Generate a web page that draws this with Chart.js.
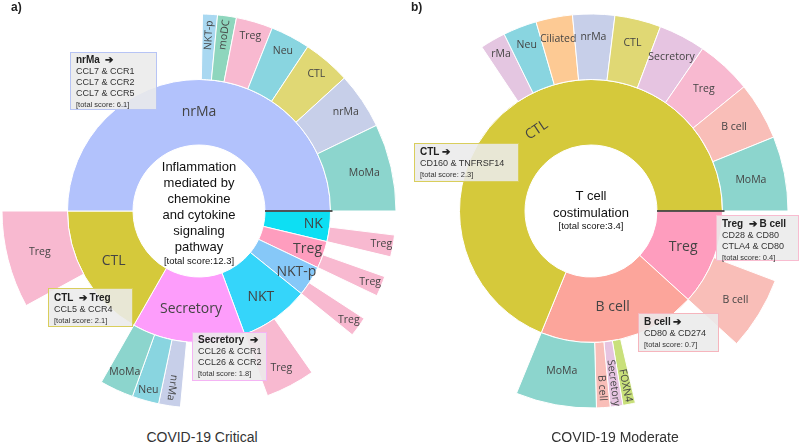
<!DOCTYPE html>
<html>
<head>
<meta charset="utf-8">
<script src="https://cdn.jsdelivr.net/npm/chart.js@4.4.0/dist/chart.umd.min.js"></script>
<style>
  body { margin: 0; width: 799px; height: 443px; background: #fff; position: relative; overflow: hidden;
         font-family: "Liberation Sans", Arial, sans-serif; color: #222; }
  .wrap { position: absolute; top: 0; width: 398px; height: 422px; }
  .panel { position: absolute; top: 0; font-size: 12px; font-weight: bold; line-height: 14px; }
  .center { position: absolute; width: 130px; text-align: center; font-size: 13px; line-height: 16px; color: #111; }
  .center .small { font-size: 9.5px; line-height: 12px; }
  .box { position: absolute; box-sizing: border-box; border: 1.5px solid; background: rgba(234,234,234,0.88);
         padding: 1px 0 0 5px; font-size: 9px; line-height: 11px; color: #333; white-space: nowrap; }
  .box b { font-size: 10px; color: #222; }
  .box .tot { font-size: 7.5px; line-height: 10px; }
  .title { position: absolute; top: 429px; width: 300px; text-align: center; font-size: 14px; line-height: 16px; color: #333; }
</style>
</head>
<body>
<div class="wrap" style="left:0"><canvas id="chartA" width="398" height="422"></canvas></div>
<div class="wrap" style="left:392px"><canvas id="chartB" width="398" height="422"></canvas></div>

<div class="panel" style="left:11px">a)</div>
<div class="panel" style="left:411px">b)</div>

<div class="center" style="left:134px;top:159px">Inflammation<br>mediated by<br>chemokine<br>and cytokine<br>signaling<br>pathway<div class="small">[total score:12.3]</div></div>
<div class="center" style="left:526px;top:187px;line-height:17px">T cell<br>costimulation<div class="small" style="line-height:9px">[total score:3.4]</div></div>

<div class="box" style="left:70px;top:52px;width:87px;height:58px;border-color:#b7c4f5"><b>nrMa &nbsp;➔</b><br>CCL7 &amp; CCR1<br>CCL7 &amp; CCR2<br>CCL7 &amp; CCR5<br><span class="tot">[total score: 6.1]</span></div>
<div class="box" style="left:48px;top:288px;width:85px;height:39px;padding-top:3px;border-color:#d9ce5c"><b>CTL &nbsp;➔ Treg</b><br>CCL5 &amp; CCR4<br><span class="tot">[total score: 2.1]</span></div>
<div class="box" style="left:192px;top:332px;width:75px;height:49px;border-color:#f4b4f4"><b>Secretory &nbsp;➔</b><br>CCL26 &amp; CCR1<br>CCL26 &amp; CCR2<br><span class="tot">[total score: 1.8]</span></div>

<div class="box" style="left:414px;top:143px;width:105px;height:39px;padding-top:2px;border-color:#d9ce5c"><b>CTL ➔</b><br>CD160 &amp; TNFRSF14<br><span class="tot">[total score: 2.3]</span></div>
<div class="box" style="left:716px;top:215px;width:83px;height:46px;padding-top:2px;border-color:#f8bcd0"><b>Treg &nbsp;➔ B cell</b><br>CD28 &amp; CD80<br>CTLA4 &amp; CD80<br><span class="tot">[total score: 0.4]</span></div>
<div class="box" style="left:638px;top:313px;width:81px;height:39px;padding-top:2px;border-color:#f6b5bd"><b>B cell ➔</b><br>CD80 &amp; CD274<br><span class="tot">[total score: 0.7]</span></div>

<div class="title" style="left:52px">COVID-19 Critical</div>
<div class="title" style="left:465px">COVID-19 Moderate</div>

<script>
// a) COVID-19 Critical - senders (inner ring), clockwise from 3 o'clock
const sourcesA = ['NK', 'Treg', 'NKT-p', 'NKT', 'Secretory', 'CTL', 'nrMa'];
const sourceScoresA = [0.46, 0.41, 0.46, 1.05, 1.71, 2.06, 6.15];
// receivers (outer ring), parent = index into sourcesA
const targetParentA = [0, 1, 2, 3, 4, 4, 4, 5, 6, 6, 6, 6, 6, 6, 6];
const targetsA = ['Treg', 'Treg', 'Treg', 'Treg', 'nrMa', 'Neu', 'MoMa', 'Treg', 'NKT-p', 'moDC', 'Treg', 'Neu', 'CTL', 'nrMa', 'MoMa'];
const targetScoresA = [0.22, 0.205, 0.20, 0.50, 0.22, 0.27, 0.34, 0.98, 0.15, 0.19, 0.37, 0.40, 0.48, 0.57, 0.88];

// b) COVID-19 Moderate
const sourcesB = ['Treg', 'B cell', 'CTL'];
const sourceScoresB = [0.40, 0.66, 2.34];
const targetParentB = [0, 1, 1, 1, 1, 2, 2, 2, 2, 2, 2, 2, 2, 2];
const targetsB = ['B cell', 'FOXN4', 'Secretory', 'B cell', 'MoMa', 'rMa', 'Neu', 'Ciliated', 'nrMa', 'CTL', 'Secretory', 'Treg', 'B cell', 'MoMa'];
const targetScoresB = [0.204, 0.035, 0.035, 0.038, 0.225, 0.071, 0.094, 0.102, 0.117, 0.129, 0.131, 0.155, 0.161, 0.208];

// colours
const innerColors = {
  'NK': '#0ddff3', 'Treg': '#fe9dbe', 'NKT-p': '#86c8f8', 'NKT': '#35d5fa',
  'Secretory': '#fd9dfb', 'CTL': '#d5c93b', 'nrMa': '#b2c2fc', 'B cell': '#fca59b'
};
const outerColors = {
  'Treg': '#f8b9d0', 'MoMa': '#8cd5cd', 'Neu': '#89d5e0', 'nrMa': '#c7cfe9', 'CTL': '#e0d874',
  'moDC': '#8ed6bd', 'NKT-p': '#a9d8f1', 'rMa': '#e4c6e1', 'Ciliated': '#fdca94',
  'Secretory': '#e6c4e1', 'B cell': '#f9beb8', 'FOXN4': '#c9e07b'
};

// label placement (fraction across the ring) and orientation: h = horizontal, r = radial, t = tangential
const innerLabelPosA = [0.75, 0.75, 0.75, 0.61, 0.5, 0.5, 0.5];
const outerLabelPosA = [0.82, 0.82, 0.82, 0.7, 0.72, 0.83, 0.7, 0.5, 0.68, 0.71, 0.77, 0.75, 0.75, 0.7, 0.58];
const outerLabelDirA = ['h', 'h', 'h', 'h', 'r', 'h', 'h', 'h', 'r', 'r', 'h', 'h', 'h', 'h', 'h'];
const innerLabelPosB = [0.5, 0.5, 0.48];
const innerLabelDirB = ['h', 'h', 't'];
const outerLabelPosB = [0.58, 0.71, 0.64, 0.7, 0.48, 0.75, 0.71, 0.67, 0.65, 0.64, 0.65, 0.53, 0.53, 0.48];
const outerLabelDirB = ['h', 'r', 'r', 'r', 'h', 'h', 'h', 'h', 'h', 'h', 'h', 'h', 'h', 'h'];

// outer ring: for every sender, an empty remainder first, then its receivers
function buildOuter(sources, scores, parents, targets, tScores, pos, dir) {
  const out = { data: [], colors: [], borders: [], labels: [], pos: [], dir: [] };
  sources.forEach((s, p) => {
    let used = 0;
    parents.forEach((pp, i) => { if (pp === p) used += tScores[i]; });
    out.data.push(Math.max(scores[p] - used, 0));
    out.colors.push('rgba(0,0,0,0)');
    out.borders.push(0);
    out.labels.push('');
    out.pos.push(0.5);
    out.dir.push('h');
    parents.forEach((pp, i) => {
      if (pp !== p) return;
      out.data.push(tScores[i]);
      out.colors.push(outerColors[targets[i]]);
      out.borders.push(1);
      out.labels.push(targets[i]);
      out.pos.push(pos[i]);
      out.dir.push(dir[i]);
    });
  });
  return out;
}

const labelPlugin = {
  id: 'sliceLabels',
  afterDatasetsDraw(chart) {
    const ctx = chart.ctx;
    chart.data.datasets.forEach((ds, di) => {
      const meta = chart.getDatasetMeta(di);
      meta.data.forEach((arc, i) => {
        const text = ds.sliceLabels[i];
        if (!text) return;
        const p = arc.getProps(['x', 'y', 'startAngle', 'endAngle', 'innerRadius', 'outerRadius']);
        const mid = (p.startAngle + p.endAngle) / 2;
        const r = p.innerRadius + ds.labelPos[i] * (p.outerRadius - p.innerRadius);
        const dir = ds.labelDir[i];
        let rot = 0;
        let m = Math.atan2(Math.sin(mid), Math.cos(mid));
        if (dir === 'r') rot = m;
        if (dir === 't') {
          rot = m + Math.PI / 2;
          if (m > 0 && m < Math.PI) rot -= Math.PI;
        }
        ctx.save();
        ctx.translate(p.x + Math.cos(mid) * r, p.y + Math.sin(mid) * r);
        ctx.rotate(rot);
        ctx.fillStyle = '#444';
        ctx.font = ds.labelFont;
        ctx.textAlign = 'center';
        ctx.textBaseline = 'middle';
        ctx.fillText(text, 0, 0);
        ctx.restore();
      });
    });
    // black line marking the start of the inner ring
    const inner = chart.getDatasetMeta(1).data[0];
    const q = inner.getProps(['x', 'y', 'startAngle', 'innerRadius', 'outerRadius']);
    ctx.save();
    ctx.strokeStyle = '#222';
    ctx.lineWidth = 1.5;
    ctx.beginPath();
    ctx.moveTo(q.x + Math.cos(q.startAngle) * q.innerRadius, q.y + Math.sin(q.startAngle) * q.innerRadius);
    ctx.lineTo(q.x + Math.cos(q.startAngle) * (q.outerRadius + 2), q.y + Math.sin(q.startAngle) * (q.outerRadius + 2));
    ctx.stroke();
    ctx.restore();
  }
};

function makeSunburst(id, sources, scores, innerPos, innerDir, outer) {
  return new Chart(document.getElementById(id), {
    type: 'doughnut',
    data: {
      datasets: [{
        data: outer.data,
        backgroundColor: outer.colors,
        borderColor: '#ffffff',
        borderWidth: outer.borders,
        sliceLabels: outer.labels,
        labelPos: outer.pos,
        labelDir: outer.dir,
        labelFont: '10.5px "Open Sans", sans-serif'
      }, {
        data: scores,
        backgroundColor: sources.map(s => innerColors[s]),
        borderColor: '#ffffff',
        borderWidth: 1,
        sliceLabels: sources,
        labelPos: innerPos,
        labelDir: innerDir,
        labelFont: '14px "Open Sans", sans-serif'
      }]
    },
    options: {
      responsive: false,
      animation: false,
      events: [],
      rotation: 90,
      radius: 197,
      cutout: '33.5%',
      plugins: { legend: { display: false }, tooltip: { enabled: false } }
    },
    plugins: [labelPlugin]
  });
}

const outerA = buildOuter(sourcesA, sourceScoresA, targetParentA, targetsA, targetScoresA, outerLabelPosA, outerLabelDirA);
const outerB = buildOuter(sourcesB, sourceScoresB, targetParentB, targetsB, targetScoresB, outerLabelPosB, outerLabelDirB);
makeSunburst('chartA', sourcesA, sourceScoresA, innerLabelPosA, sourcesA.map(() => 'h'), outerA);
makeSunburst('chartB', sourcesB, sourceScoresB, innerLabelPosB, innerLabelDirB, outerB);
</script>
</body>
</html>
